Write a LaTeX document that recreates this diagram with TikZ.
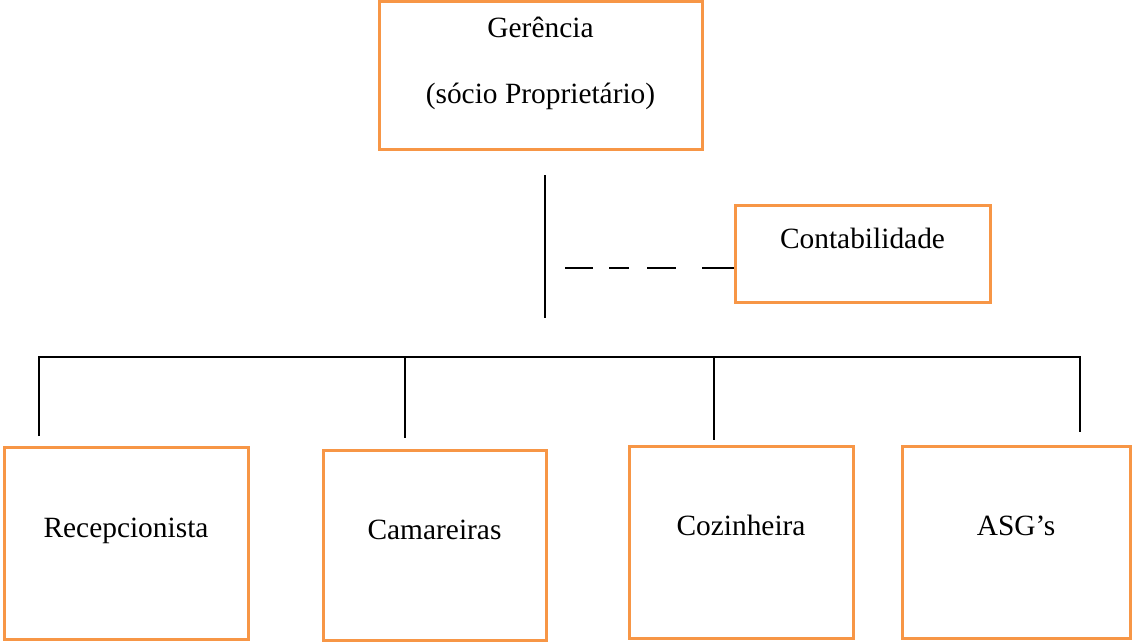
\documentclass[tikz,border=0pt]{standalone}
\usepackage{fontspec}
\setmainfont{Liberation Serif}
\definecolor{corange}{RGB}{247,150,70}
\tikzset{
  box/.style={draw=corange,line width=3pt,inner sep=0pt,font=\fontsize{29.4}{35}\selectfont},
  wire/.style={draw=black,line width=1.3pt}
}

\begin{document}
\begin{tikzpicture}[x=1pt,y=-1pt]
\useasboundingbox (0,0) rectangle (1132,642);

% top boxes
\node[box,minimum width=323pt,text height=101.5pt,text depth=46pt] (ger) at (540.5,75.25) {\begin{tabular}[b]{@{}c@{}}Gerência\\[31pt](sócio Proprietário)\end{tabular}};
\node[box,minimum width=255pt,text height=43pt,text depth=54pt] (cont) at (862.5,253.5) {Contabilidade};

% bottom boxes
\node[box,minimum width=244pt,text height=90pt,text depth=102pt] (recep) at (126,543) {Recepcionista};
\node[box,minimum width=223pt,text height=89pt,text depth=101pt] (cam) at (434.5,545) {Camareiras};
\node[box,minimum width=224pt,text height=89pt,text depth=103pt] (coz) at (741,542) {Cozinheira};
\node[box,minimum width=228pt,text height=89pt,text depth=103pt] (asg) at (1016,542) {ASG’s};

% free line ends
\coordinate (trunktop) at (545,175);
\coordinate (trunkbot) at (545,318);
\coordinate (dashstart) at (565,268);
\coordinate (bus1) at (39,357);
\coordinate (bus2) at (405,357);
\coordinate (bus3) at (714,357);
\coordinate (bus4) at (1080,357);
\coordinate (drop1) at (39,436);
\coordinate (drop2) at (405,438);
\coordinate (drop3) at (714,440);
\coordinate (drop4) at (1080,432);

% lines
\draw[wire] (trunktop) -- (trunkbot);
\draw[wire,dash pattern=on 28pt off 16pt on 20pt off 18pt on 29pt off 26pt on 40pt] (dashstart) -- (dashstart -| cont.west);
\draw[wire] (drop1) -- (bus1) -- (bus4) -- (drop4);
\draw[wire] (bus2) -- (drop2);
\draw[wire] (bus3) -- (drop3);

\end{tikzpicture}
\end{document}
